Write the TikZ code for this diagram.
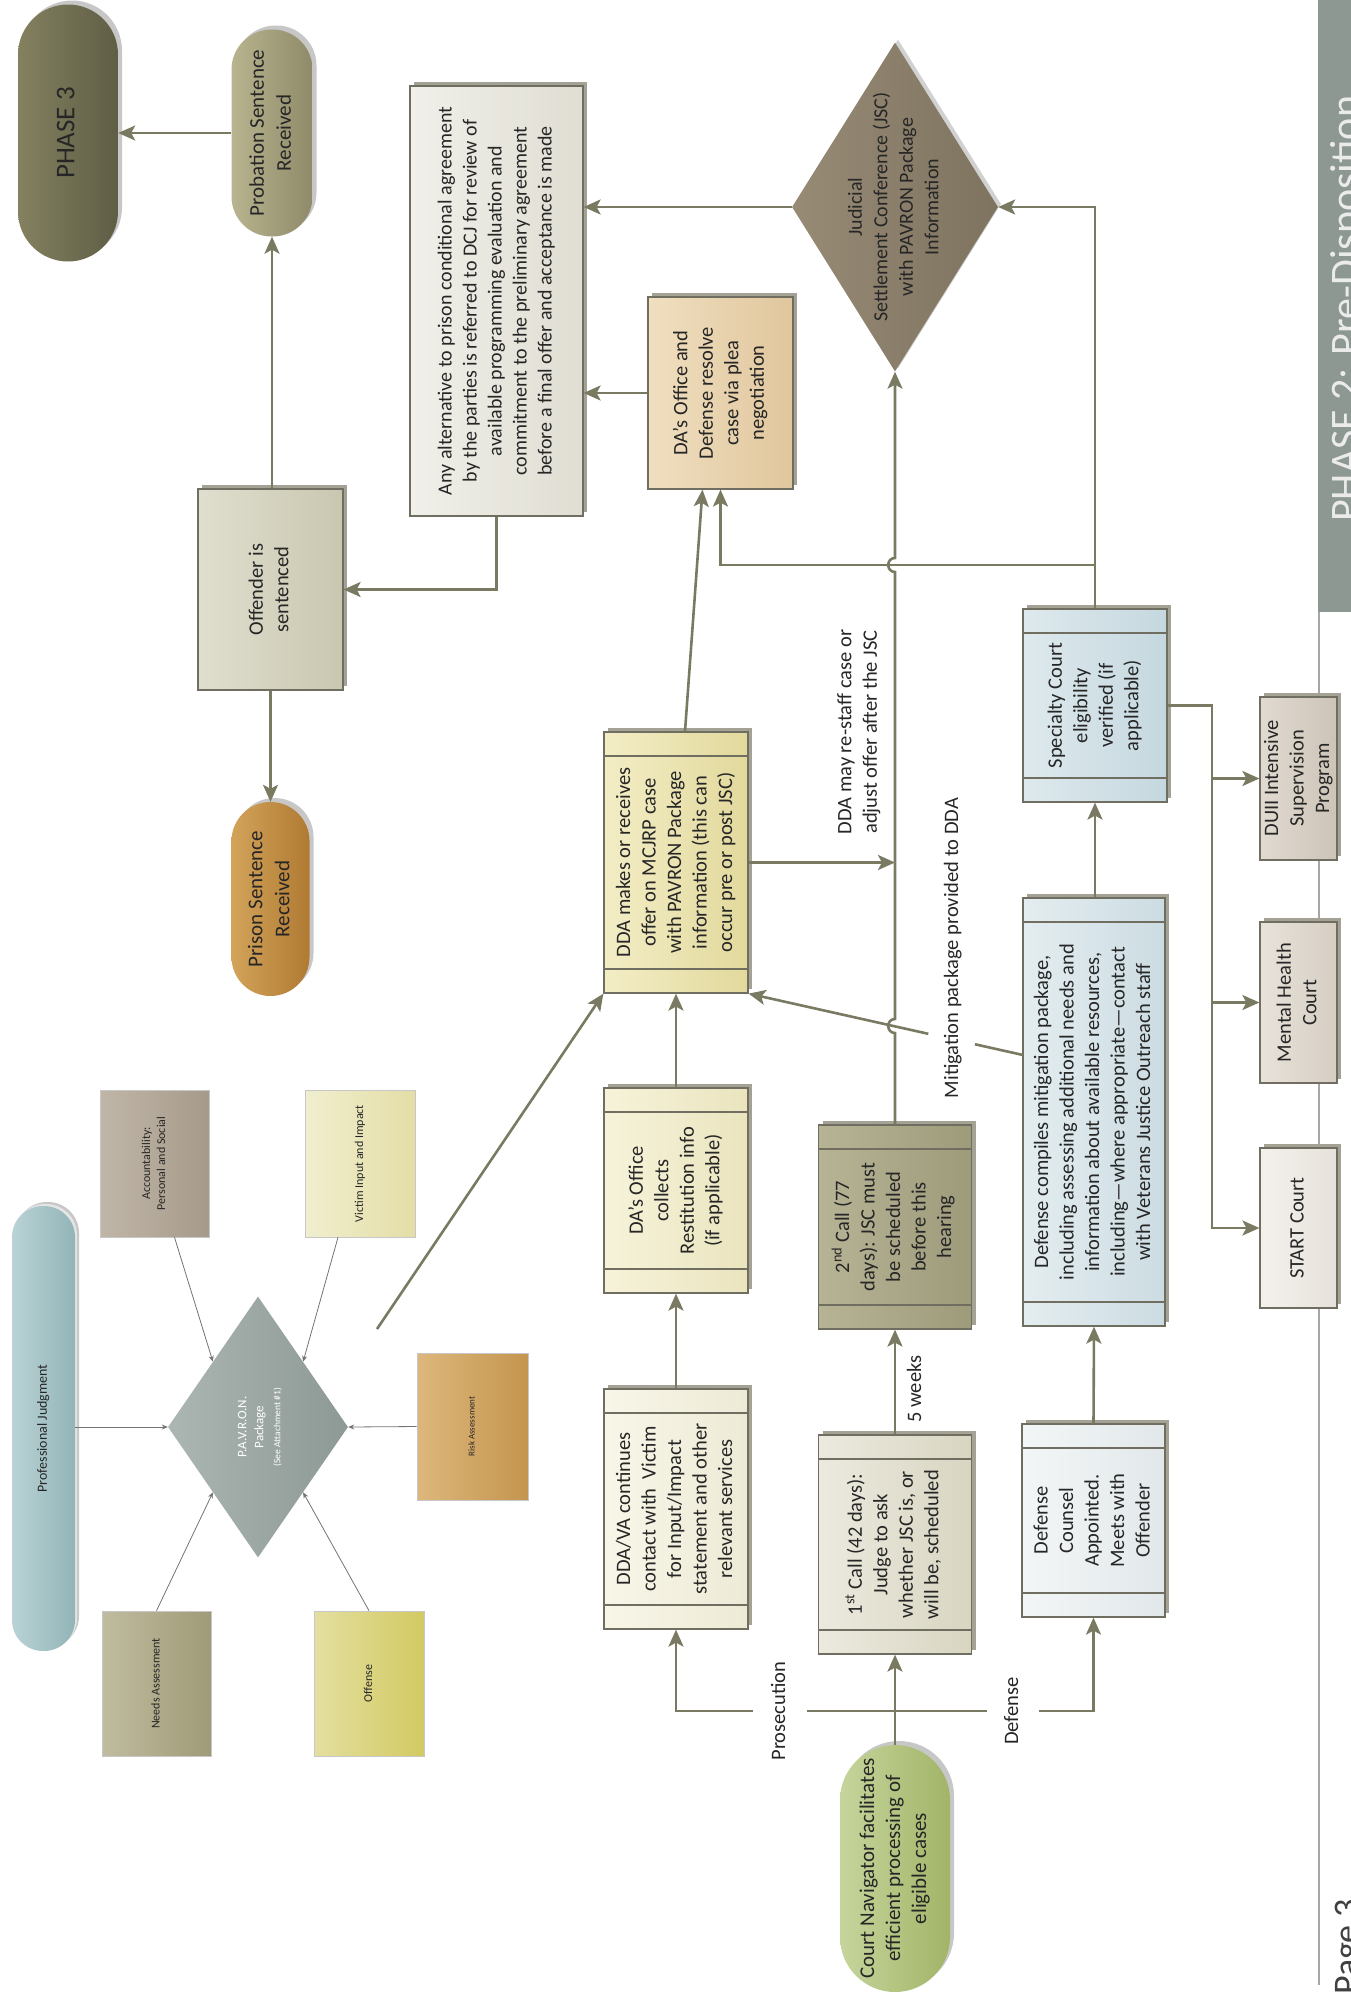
\documentclass[tikz,border=0pt]{standalone}
\usepackage{fontspec}
\setmainfont{Carlito}
\usetikzlibrary{shapes.geometric,arrows.meta,shadows,calc}

\definecolor{linecol}{HTML}{7A7A62}
\definecolor{edgecol}{HTML}{6F6E60}
\definecolor{shadecol}{HTML}{A3A294}
\definecolor{txt}{HTML}{262626}
\definecolor{bandcol}{HTML}{8D9893}
% fills (left / right of each gradient)
\definecolor{phA}{HTML}{83815F}\definecolor{phB}{HTML}{5F5D45}
\definecolor{proA}{HTML}{B8B48F}\definecolor{proB}{HTML}{8F8A69}
\definecolor{offA}{HTML}{E0DFCF}\definecolor{offB}{HTML}{C9C7B0}
\definecolor{priA}{HTML}{D3A35A}\definecolor{priB}{HTML}{B07A33}
\definecolor{anyA}{HTML}{F0EFE9}\definecolor{anyB}{HTML}{E0DED3}
\definecolor{darA}{HTML}{F0DFC0}\definecolor{darB}{HTML}{E0C69D}
\definecolor{jscA}{HTML}{978B76}\definecolor{jscB}{HTML}{7E735F}
\definecolor{ddmA}{HTML}{F3EDC6}\definecolor{ddmB}{HTML}{E2D99C}
\definecolor{colA}{HTML}{F6F3DA}\definecolor{colB}{HTML}{EAE4BE}
\definecolor{dvaA}{HTML}{F8F6E8}\definecolor{dvaB}{HTML}{EDEAD6}
\definecolor{caA}{HTML}{ECEADF}\definecolor{caB}{HTML}{D8D5C1}
\definecolor{cbA}{HTML}{B7B496}\definecolor{cbB}{HTML}{9E9B7B}
\definecolor{cnA}{HTML}{C6D59C}\definecolor{cnB}{HTML}{A2B468}
\definecolor{dcoA}{HTML}{F3F6F7}\definecolor{dcoB}{HTML}{E2E8EA}
\definecolor{dcmA}{HTML}{E4EDF0}\definecolor{dcmB}{HTML}{CCDCE2}
\definecolor{spA}{HTML}{DEE9ED}\definecolor{spB}{HTML}{C5D8DF}
\definecolor{duA}{HTML}{E1DAD1}\definecolor{duB}{HTML}{CDC4B8}
\definecolor{mhA}{HTML}{E8E2DA}\definecolor{mhB}{HTML}{D6CEC3}
\definecolor{stA}{HTML}{F4F1ED}\definecolor{stB}{HTML}{E6E1DA}
\definecolor{pjA}{HTML}{B9D2D5}\definecolor{pjB}{HTML}{93B5B8}
\definecolor{acA}{HTML}{C0B6A8}\definecolor{acB}{HTML}{A69B8A}
\definecolor{viA}{HTML}{F1EECF}\definecolor{viB}{HTML}{E3DEA6}
\definecolor{neA}{HTML}{C0BC9F}\definecolor{neB}{HTML}{9F9A77}
\definecolor{ofA}{HTML}{E4DFA0}\definecolor{ofB}{HTML}{D2CA62}
\definecolor{riA}{HTML}{DDB77C}\definecolor{riB}{HTML}{C4954E}
\definecolor{pvA}{HTML}{ACB6B3}\definecolor{pvB}{HTML}{8D9995}

% text turned a quarter turn, reading upwards
\newcommand{\vtext}[2][c]{\rotatebox{90}{\begin{tabular}{@{}#1@{}}#2\end{tabular}}}

\tikzset{
  base/.style={inner sep=0pt, text=txt, font=\fontsize{20.5}{25.5}\selectfont},
  sz/.style 2 args={minimum width=#1pt, minimum height=#2pt},
  grad/.style 2 args={left color=#1, right color=#2},
  box/.style={base, rectangle, draw=edgecol, line width=1.2pt,
    drop shadow={shadow xshift=4pt, shadow yshift=4pt, fill=shadecol, opacity=1}},
  proc/.style={box, path picture={
    \draw[edgecol, line width=1.2pt]
      ([yshift=-24pt]path picture bounding box.north west) -- ([yshift=-24pt]path picture bounding box.north east)
      ([yshift=24pt]path picture bounding box.south west) -- ([yshift=24pt]path picture bounding box.south east);}},
  pill/.style={base, rectangle, rounded corners=#1, draw=none,
    drop shadow={shadow xshift=4pt, shadow yshift=4pt, fill=black!22, opacity=1}},
  factor/.style={base, rectangle, draw=black!22, line width=0.6pt, font=\fontsize{12}{15}\selectfont},
  lbl/.style={base},
  arr/.style={draw=linecol, line width=2.6pt, -{Stealth[length=17pt, width=15pt, inset=4pt]}},
  ln/.style={draw=linecol, line width=2.6pt},
  thinarr/.style={draw=black!55, line width=0.8pt, -{Stealth[length=6pt, width=5pt]}},
}

\begin{document}
\begin{tikzpicture}[x=1pt, y=-1pt]
\useasboundingbox (0,0) rectangle (1351,1997);
\clip (0,0) rectangle (1351,1997);

% page margin band and rule
\fill[bandcol] (1318,0) rectangle (1352,612);
\node[base, anchor=south west, text=white!92!black, font=\fontsize{42}{46}\selectfont] (phase2) at (1330,522) {\rotatebox{90}{PHASE 2: Pre-Disposition}};
\draw[black!35, line width=1.5pt] (1319,612) -- (1319,1985);
\node[base, anchor=south west, text=black!75, font=\fontsize{36}{40}\selectfont] (pagenum) at (1335,1995) {\rotatebox{90}{Page 3}};

% ---------- outcome column ----------
\node[pill=50pt, grad={phA}{phB}, sz={100}{257}, font=\fontsize{27}{32}\selectfont] (phase3) at (68,133) {\vtext{PHASE 3}};
\node[pill=40pt, grad={proA}{proB}, sz={81}{207}, font=\fontsize{21}{27}\selectfont] (prob) at (272,133) {\vtext{Probation Sentence\\Received}};
\node[box, grad={offA}{offB}, sz={145}{201}] (offender) at (270.5,589.5) {\vtext{Offender is\\sentenced}};
\node[pill=39pt, grad={priA}{priB}, sz={78}{194}, font=\fontsize{21}{27}\selectfont] (prison) at (270.5,899) {\vtext{Prison Sentence\\Received}};

\node[box, grad={anyA}{anyB}, sz={173}{430}, font=\fontsize{20}{25}\selectfont] (anyalt) at (496.5,301) {\vtext{Any alternative to prison conditional agreement\\by the parties is referred to DCJ for review of\\available programming evaluation and\\commitment to the preliminary agreement\\before a final offer and acceptance is made}};

\node[box, grad={darA}{darB}, sz={145}{192}] (daresolve) at (720.5,393) {\vtext{DA’s Office and\\Defense resolve\\case via plea\\negotiation}};

\node[base, diamond, draw=none, grad={jscA}{jscB}, sz={206}{329},
  drop shadow={shadow xshift=3pt, shadow yshift=3pt, fill=black!18, opacity=1}] (jsc) at (895,207) {};
\node[base, font=\fontsize{20}{25.5}\selectfont] (jsctext) at (jsc.center) {\vtext{Judicial\\Settlement Conference (JSC)\\with PAVRON Package\\Information}};

% ---------- prosecution track ----------
\node[proc, grad={ddmA}{ddmB}, sz={144}{261}] (ddamakes) at (676,862.5) {\vtext{DDA makes or receives\\offer on MCJRP case\\with PAVRON Package\\information (this can\\occur pre or post JSC)}};
\node[proc, grad={colA}{colB}, sz={144}{205}] (collects) at (676,1190.5) {\vtext{DA’s Office\\collects\\Restitution info\\(if applicable)}};
\node[proc, grad={dvaA}{dvaB}, sz={144}{240}] (ddava) at (676,1509) {\vtext{DDA/VA continues\\contact with\ \ Victim\\for Input/Impact\\statement and other\\relevant services}};

% ---------- court track ----------
\node[proc, grad={cbA}{cbB}, sz={153}{204}] (call2) at (895,1227) {\vtext{2\textsuperscript{nd} Call (77\\days): JSC must\\be scheduled\\before this\\hearing}};
\node[proc, grad={caA}{caB}, sz={153}{219}] (call1) at (895,1544.5) {\vtext{1\textsuperscript{st} Call (42 days):\\Judge to ask\\whether JSC is, or\\will be, scheduled}};
\node[pill=55pt, grad={cnA}{cnB}, sz={110}{247}, font=\fontsize{21}{26}\selectfont] (courtnav) at (895,1868.5) {\vtext{Court Navigator facilitates\\efficient processing of\\eligible cases}};

% ---------- defense track ----------
\node[proc, grad={spA}{spB}, sz={144}{193}] (specialty) at (1095,705.5) {\vtext{Specialty Court\\eligibility\\verified (if\\applicable)}};
\node[proc, grad={dcmA}{dcmB}, sz={142}{428}] (defcompiles) at (1094,1112) {\vtext{Defense compiles mitigation package,\\including assessing additional needs and\\information about available resources,\\including---where appropriate---contact\\with Veterans Justice Outreach staff}};
\node[proc, grad={dcoA}{dcoB}, sz={143}{193}] (defcounsel) at (1093.5,1520.5) {\vtext{Defense\\Counsel\\Appointed.\\Meets with\\Offender}};

\node[box, grad={duA}{duB}, sz={77}{163}] (duii) at (1298.5,778.5) {\vtext{DUII Intensive\\Supervision\\Program}};
\node[box, grad={mhA}{mhB}, sz={77}{161}] (mental) at (1298.5,1002.5) {\vtext{Mental Health\\Court}};
\node[box, grad={stA}{stB}, sz={77}{160}] (start) at (1298.5,1228) {\vtext{START Court}};

% ---------- P.A.V.R.O.N. package ----------
\node[pill=31pt, grad={pjA}{pjB}, sz={63}{445}, font=\fontsize{14}{17}\selectfont, drop shadow={shadow xshift=2pt, shadow yshift=2pt, fill=black!10, opacity=1}] (profj) at (43.5,1428.5) {\vtext{Professional Judgment}};
\node[factor, grad={acA}{acB}, sz={109}{147}] (account) at (154.5,1163.5) {\vtext{Accountability:\\Personal and Social}};
\node[factor, grad={viA}{viB}, sz={110}{147}] (victim) at (360,1163.5) {\vtext{Victim Input and Impact}};
\node[factor, grad={neA}{neB}, sz={109}{145}] (needs) at (156.5,1683.5) {\vtext{Needs Assessment}};
\node[factor, grad={ofA}{ofB}, sz={110}{145}] (offense) at (369,1683.5) {\vtext{Offense}};
\node[factor, grad={riA}{riB}, sz={111}{147}, font=\fontsize{9}{11}\selectfont] (risk) at (472.5,1426.5) {\vtext{Risk Assessment}};
\node[base, diamond, draw=none, grad={pvA}{pvB}, sz={180}{261}] (pavron) at (258,1427) {};
\node[base, text=white, font=\fontsize{13}{17}\selectfont] (pavtext) at ([xshift=2pt]pavron.center) {\vtext{P.A.V.R.O.N.\\Package\\{\fontsize{9.5}{12}\selectfont(See Attachment \#1)}}};

\draw[thinarr] (profj.east |- pavron.west) -- (pavron.west);
\draw[thinarr] (risk.west) -- (pavron.east);
\draw[thinarr] ([xshift=20pt]account.south) -- (pavron.north west);
\draw[thinarr] ([xshift=-22pt]victim.south) -- (pavron.north east);
\draw[thinarr] (needs.north) -- (pavron.south west);
\draw[thinarr] (offense.north) -- (pavron.south east);

% ---------- connectors ----------
\draw[arr] (prob.west) -- (phase3.east);
\draw[arr] (offender.north -| prob.south) -- (prob.south);
\draw[arr] (offender.south) -- (prison.north);
\draw[arr] (anyalt.south) |- (offender.east);
\draw[arr] (daresolve.west) -- (daresolve.west -| anyalt.east);
\draw[arr] (jsc.west) -- (jsc.west -| anyalt.east);

\coordinate (jn) at (1095,565);
\draw[arr] (specialty.north) |- (jsc.east);
\draw[arr] (jn) -| (daresolve.south);
\draw[arr] ([xshift=9pt]ddamakes.north) -- ([xshift=-18pt]daresolve.south);

\draw[arr] (collects.north) -- (ddamakes.south);
\draw[arr] (ddava.north) -- (collects.south);

% package path from the P.A.V.R.O.N. cluster
\coordinate (pvout) at (377,1329);
\draw[arr] (pvout) -- (ddamakes.south west);

% court track spine with crossing bumps
\draw[arr] (call2.north) -- (895,1033) .. controls (886,1033) and (886,1019) .. (895,1019)
  -- (895,572) .. controls (886,572) and (886,558) .. (895,558) -- (jsc.south);
\draw[arr] (ddamakes.east) -- (ddamakes.east -| call2.north);
\node[lbl, align=center] (restaff) at (859,732) {\vtext{DDA may re-staff case or\\adjust offer after the JSC}};

\draw[arr] (call1.north) -- (call2.south);
\node[lbl] (weeks) at (916,1389) {\vtext{5 weeks}};
\draw[arr] (courtnav.north) -- (call1.south);

\coordinate (split) at (895,1711);
\draw[arr] (split) -| (ddava.south);
\draw[arr] (split) -| (defcounsel.south);
\node[lbl, fill=white, inner xsep=14pt] (prosec) at (780,1711) {\vtext{Prosecution}};
\node[lbl, fill=white, inner xsep=13pt] (deflbl) at (1013,1711) {\vtext{Defense}};

% mitigation package
\coordinate (mstart) at (1023,1055);
\coordinate (mgA) at ($(ddamakes.south east)!0.825!(mstart)$);
\coordinate (mgB) at ($(ddamakes.south east)!0.655!(mstart)$);
\draw[ln] (mstart) -- (mgA);
\draw[arr] (mgB) -- (ddamakes.south east);
\node[lbl] (mitig) at (953,948) {\vtext{Mitigation package provided to DDA}};

\draw[arr] (defcounsel.north) -- (defcompiles.south);
\draw[arr] (defcompiles.north -| specialty.south) -- (specialty.south);

\coordinate (bus) at (1212,705.5);
\draw[arr] (specialty.east) -- (bus) |- (start.west);
\draw[arr] (bus |- duii.west) -- (duii.west);
\draw[arr] (bus |- mental.west) -- (mental.west);
\end{tikzpicture}
\end{document}
